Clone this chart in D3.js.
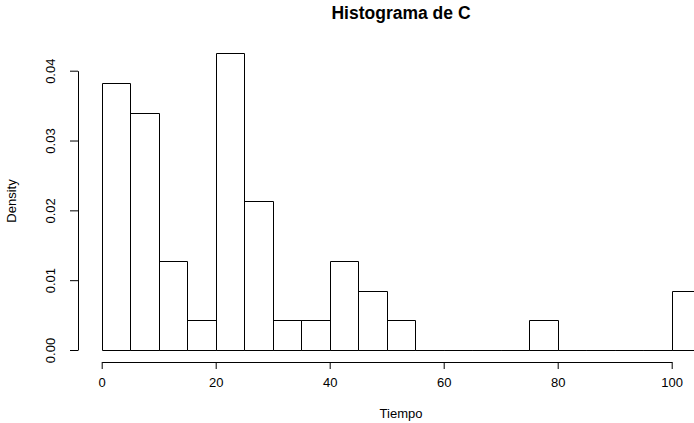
<!DOCTYPE html>
<html>
<head>
<meta charset="utf-8">
<script src="https://cdn.jsdelivr.net/npm/d3@7"></script>
<style>
  body { margin: 0; background: #fff; overflow: hidden; }
  svg { display: block; font-family: "Liberation Sans", Arial, sans-serif; }
  .axis path, .axis line { stroke: #000; }
  .axis text { font-size: 13px; fill: #000; }
</style>
</head>
<body>
<svg id="chart"></svg>
<script>
// histogram breaks (Tiempo) and density per bin
var breaks = [0, 5, 10, 15, 20, 25, 30, 35, 40, 45, 50, 55, 60, 65, 70, 75, 80, 85, 90, 95, 100, 105];
var density = [0.0383, 0.0340, 0.0128, 0.0043, 0.0426, 0.0213, 0.0043, 0.0043, 0.0128, 0.0085,
               0.0043, 0, 0, 0, 0, 0.0043, 0, 0, 0, 0, 0.0085];
var xTicks = [0, 20, 40, 60, 80, 100];
var yTicks = [0, 0.01, 0.02, 0.03, 0.04];

var W = 694, H = 423;
var svg = d3.select("#chart").attr("width", W).attr("height", H);

var x = d3.scaleLinear().domain([0, 100]).range([101.7, 671.7]);
var y = d3.scaleLinear().domain([0, 0.04]).range([350, 70.7]);

var bins = density.map(function(d, i) { return {x0: breaks[i], x1: breaks[i + 1], d: d}; });

// bars (paths so that empty bins still show a line on the baseline)
svg.append("g")
  .selectAll("path")
  .data(bins)
  .enter()
  .append("path")
    .attr("d", function(b) {
      var l = Math.round(x(b.x0)) + 0.5, r = Math.round(x(b.x1)) + 0.5;
      var t = Math.round(y(b.d)) + 0.5, bt = Math.round(y(0)) + 0.5;
      return "M" + l + "," + bt + "V" + t + "H" + r + "V" + bt + "Z";
    })
    .attr("fill", "none")
    .attr("stroke", "#000")
    .attr("stroke-width", 1);

// x axis
svg.append("g")
  .attr("class", "axis")
  .attr("transform", "translate(0,362)")
  .call(d3.axisBottom(x).tickValues(xTicks).tickSize(7).tickSizeOuter(0).tickPadding(9).tickFormat(d3.format("d")));

// y axis with rotated labels like R
var yAxis = svg.append("g")
  .attr("class", "axis")
  .attr("transform", "translate(78,0)")
  .call(d3.axisLeft(y).tickValues(yTicks).tickSize(8).tickSizeOuter(0).tickFormat(d3.format(".2f")));
yAxis.selectAll("text")
  .attr("x", null).attr("dy", null)
  .attr("text-anchor", "middle")
  .attr("transform", "translate(-23,0) rotate(-90)");
svg.selectAll(".axis .domain").attr("fill", "none");

// title and axis labels
svg.append("text")
  .attr("x", 401).attr("y", 19)
  .attr("text-anchor", "middle")
  .style("font-size", "17.5px")
  .style("font-weight", "bold")
  .text("Histograma de C");

svg.append("text")
  .attr("x", 401).attr("y", 417.5)
  .attr("text-anchor", "middle")
  .style("font-size", "13px")
  .text("Tiempo");

svg.append("text")
  .attr("transform", "translate(15.5,201) rotate(-90)")
  .attr("text-anchor", "middle")
  .style("font-size", "13px")
  .text("Density");
</script>
</body>
</html>
